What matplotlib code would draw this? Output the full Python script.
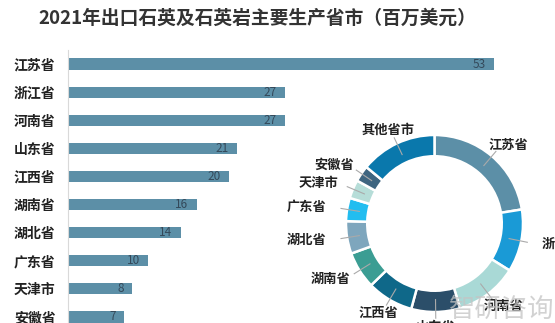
import matplotlib
matplotlib.use("Agg")
import matplotlib.pyplot as plt
import numpy as np

plt.rcParams['font.family'] = ['Noto Sans CJK SC', 'DejaVu Sans']

# data
provinces = ["江苏省", "浙江省", "河南省", "山东省", "江西省",
             "湖南省", "湖北省", "广东省", "天津市", "安徽省"]
values = [53, 27, 27, 21, 20, 16, 14, 10, 8, 7]
other_label = "其他省市"
other_value = 33

title = "2021年出口石英及石英岩主要生产省市（百万美元）"
bar_color = "#5c8fa7"
donut_colors = ["#5c8fa7", "#1a9ad6", "#a9d9d6", "#2b4e69", "#0f6889",
                "#3b9d93", "#7ea6bd", "#22bdf0", "#b6ddd8", "#3e6580", "#0a78ac"]

W, H = 555, 323
fig = plt.figure(figsize=(W / 100, H / 100), dpi=100)

# bar chart
ax = fig.add_axes([68 / W, (H - 331) / H, (494 - 68) / W, 281 / H])
y = np.arange(len(provinces))
ax.barh(y, values, height=0.4, color=bar_color)
ax.set_xlim(0, 53)
ax.set_ylim(len(provinces) - 0.5, -0.5)
ax.set_yticks(y)
ax.set_yticklabels(provinces, fontsize=10, fontweight="bold", color="#222222")
ax.tick_params(axis="y", length=0, pad=9)
ax.set_xticks([])
for s in ["top", "right", "bottom"]:
    ax.spines[s].set_visible(False)
ax.spines["left"].set_color("#d9d9d9")
for yi, v in zip(y, values):
    ax.annotate(str(v), (v, yi), xytext=(-6, 0), textcoords="offset points",
                ha="right", va="center", fontsize=8.5, color="#34495a")

# donut
cx, cy, r = 434.5, 223.5, 88.5
L = 1.6
size = 2 * L * r
dax = fig.add_axes([(cx - size / 2) / W, (H - cy - size / 2) / H, size / W, size / H])
dax.patch.set_alpha(0)

labels = provinces + [other_label]
sizes = values + [other_value]
wedges, _ = dax.pie(sizes, colors=donut_colors, startangle=90, counterclock=False,
                    radius=1, wedgeprops=dict(width=0.24, edgecolor="white", linewidth=1.8))
dax.set_xlim(-L, L)
dax.set_ylim(-L, L)
dax.set_aspect("equal")
dax.axis("off")
for w, lab in zip(wedges, labels):
    ang = np.deg2rad((w.theta1 + w.theta2) / 2)
    c, s = np.cos(ang), np.sin(ang)
    dax.plot([0.86 * c, 1.07 * c], [0.86 * s, 1.07 * s], color="#aaaaaa", lw=0.8)
    dax.text(1.17 * c + 0.3 * c ** 3, 1.17 * s, lab, ha="center", va="center",
             fontsize=9.5, fontweight="bold", color="#222222")

fig.text(257 / W, 1 - 18 / H, title, ha="center", va="center",
         fontsize=13.5, fontweight="bold", color="#333333")
fig.text(502 / W, 1 - 309 / H, "智研咨询", ha="center", va="center",
         fontsize=19, color="#c4c4c4", alpha=0.75)

fig.savefig("out.png", dpi=100)
